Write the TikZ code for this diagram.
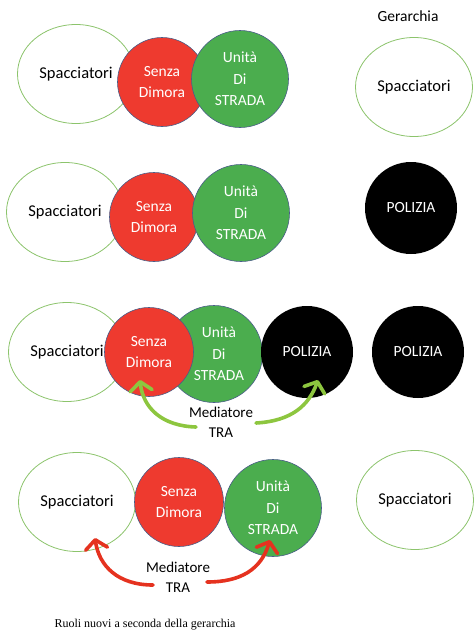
\documentclass[tikz,border=0pt]{standalone}
\usepackage{fontspec}
\setmainfont{Carlito}
\newfontfamily\capfont{Liberation Serif}
\usetikzlibrary{shapes.geometric,arrows.meta}
\definecolor{ringgreen}{HTML}{8CC46C}
\definecolor{dimred}{HTML}{EE3A2F}
\definecolor{unitgreen}{HTML}{4BAD4E}
\definecolor{rimblue}{HTML}{4A5E88}
\definecolor{arrowgreen}{HTML}{8DC63F}
\definecolor{arrowred}{HTML}{E5321F}
\tikzset{
  lbl/.style={font=\fontsize{15.5}{21.5}\selectfont, align=center, inner sep=0pt},
  spac/.style={lbl, ellipse, draw=ringgreen, line width=0.8pt, fill=white,
    minimum width=117pt, minimum height=99pt, text=black,
    font=\fontsize{16.5}{21.5}\selectfont},
  senza/.style={lbl, circle, draw=rimblue, line width=0.6pt, fill=dimred,
    minimum size=89pt, text=white},
  unita/.style={lbl, circle, draw=rimblue, line width=0.6pt, fill=unitgreen,
    minimum size=97pt, text=white},
  polizia/.style={lbl, circle, fill=black, minimum size=92pt, text=white},
  mediator/.style={font=\fontsize{15}{20}\selectfont, align=center, inner sep=0pt},
  handarrow/.style={line width=3.6pt, line cap=round,
    -{Straight Barb[length=9pt, width=22pt, line cap=round, line join=round]}},
}
\begin{document}
\begin{tikzpicture}[x=1pt, y=-1pt]
\useasboundingbox (0,0) rectangle (474,632);

% heading of the hierarchy column
\node[lbl] (ger) at (408,16) {Gerarchia};

% first row
\node[spac]  (s1) at (76,74)  {Spacciatori};
\node[senza] (d1) at (162,82) {Senza\\Dimora};
\node[unita] (u1) at (240,79) {Unità\\Di\\STRADA};
\node[spac]  (h1) at (414,87) {Spacciatori};

% second row
\node[spac]    (s2) at (65,212)  {Spacciatori};
\node[senza]   (d2) at (154,217) {Senza\\Dimora};
\node[unita]   (u2) at (241,213) {Unità\\Di\\STRADA};
\node[polizia] (h2) at (411,208) {POLIZIA};

% third row: the street unit mediates between homeless and police
\node[spac]    (s3) at (67,352)  {Spacciatori};
\node[unita]   (u3) at (214,354) {};
\node[senza]   (d3) at (149,352) {Senza\\Dimora};
\node[lbl, text=white] (u3t) at (219,354) {Unità\\Di\\STRADA};
\node[polizia] (p3) at (307,352) {POLIZIA};
\node[polizia] (h3) at (418,352) {POLIZIA};
\node[mediator] (m3) at (221,422) {Mediatore\\TRA};
\coordinate (m3a) at (196,427);
\coordinate (m3b) at (256,423);
\coordinate (d3t) at (140,380);
\coordinate (p3t) at (318,380);
\draw[handarrow, arrowgreen] (m3a) .. controls (162,426) and (143,408) .. (d3t);
\draw[handarrow, arrowgreen] (m3b) .. controls (292,421) and (309,405) .. (p3t);

% fourth row: the homeless mediate between dealers and the street unit
\node[spac]  (s4) at (77,502)  {Spacciatori};
\node[senza] (d4) at (179,502) {Senza\\Dimora};
\node[unita] (u4) at (273,508) {Unità\\Di\\STRADA};
\node[spac]  (h4) at (415,500) {Spacciatori};
\node[mediator] (m4) at (178,577) {Mediatore\\TRA};
\coordinate (m4a) at (153,585);
\coordinate (m4b) at (207,582);
\coordinate (s4t) at (95,538);
\coordinate (u4t) at (270,540);
\draw[handarrow, arrowred] (m4a) .. controls (118,585) and (99,566) .. (s4t);
\draw[handarrow, arrowred] (m4b) .. controls (240,582) and (261,570) .. (u4t);

% caption
\node[font=\capfont\fontsize{12}{13}\selectfont, inner sep=0pt] (cap) at (145,625)
  {Ruoli nuovi a seconda della gerarchia};
\end{tikzpicture}
\end{document}
